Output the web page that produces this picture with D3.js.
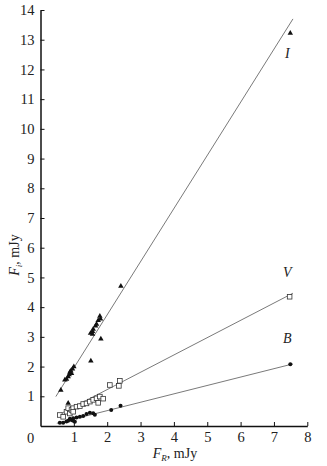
<!DOCTYPE html>
<html>
<head>
<meta charset="utf-8">
<script src="https://cdn.jsdelivr.net/npm/d3@7"></script>
<style>
  body { margin: 0; background: #fff; }
  svg text { font-family: "Liberation Serif", "DejaVu Serif", serif; fill: #222; }
</style>
</head>
<body>
<div class="chart"></div>
<script>
// photometry points, I / V / B versus F_R (mJy)
const pointsI = [
  [0.61, 1.21], [0.73, 1.55], [0.78, 1.58], [0.83, 1.66], [0.86, 1.73], [0.93, 1.77],
  [0.88, 1.81], [0.91, 1.85], [0.96, 1.92], [1.0, 2.0], [0.83, 0.77],
  [1.51, 2.19], [1.81, 2.93], [1.50, 3.12], [1.56, 3.09], [1.56, 3.18], [1.58, 3.26],
  [1.65, 3.37], [1.68, 3.43], [1.73, 3.55], [1.80, 3.60], [1.78, 3.70],
  [2.41, 4.71], [7.49, 13.22]
];
const pointsV = [
  [0.58, 0.37], [0.68, 0.31], [0.78, 0.48], [0.88, 0.42], [0.83, 0.60], [0.93, 0.54],
  [0.98, 0.60], [0.98, 0.48], [1.08, 0.65], [1.18, 0.67], [1.28, 0.74], [1.38, 0.76],
  [1.48, 0.82], [1.58, 0.88], [1.68, 0.93], [1.73, 0.78], [1.78, 0.99], [1.88, 0.92],
  [2.08, 1.38], [2.35, 1.35], [2.38, 1.52], [7.47, 4.35]
];
const pointsB = [
  [0.58, 0.11], [0.68, 0.11], [0.78, 0.15], [0.83, 0.18], [0.88, 0.24], [0.93, 0.20],
  [0.98, 0.26], [0.98, 0.18], [1.03, 0.14], [1.08, 0.29], [1.18, 0.31], [1.28, 0.34],
  [1.38, 0.40], [1.48, 0.45], [1.58, 0.43], [1.63, 0.38], [2.12, 0.54], [2.40, 0.68],
  [7.49, 2.08]
];
// fitted lines, end points
const fitI = [[0.46, 0.99], [7.57, 13.70]];
const fitV = [[0.53, 0.37], [7.57, 4.47]];
const fitB = [[0.49, 0.09], [7.57, 2.09]];

const xTicks = [1, 2, 3, 4, 5, 6, 7, 8];
const yTicks = [1, 2, 3, 4, 5, 6, 7, 8, 9, 10, 11, 12, 13, 14];

const W = 327, H = 466;
const margin = {top: 10, left: 40.5, right: 19.7, bottom: 40};

const svg = d3.select('.chart').append('svg')
  .attr('width', W).attr('height', H);

const xScale = d3.scaleLinear().domain([0, 8]).range([margin.left, W - margin.right]);
const yScale = d3.scaleLinear().domain([0, 14]).range([H - margin.bottom, margin.top]);

// axes, ticks pointing inward
const xAxis = d3.axisBottom(xScale).tickValues(xTicks).tickSizeInner(-4).tickSizeOuter(0).tickPadding(6);
const yAxis = d3.axisLeft(yScale).tickValues(yTicks).tickSizeInner(-4).tickSizeOuter(0).tickPadding(6);

const gx = svg.append('g')
  .attr('transform', `translate(0,${yScale(0)})`)
  .call(xAxis);
const gy = svg.append('g')
  .attr('transform', `translate(${xScale(0)},0)`)
  .call(yAxis);

[gx, gy].forEach(g => {
  g.select('.domain').attr('stroke', '#111').attr('stroke-width', 1.5);
  g.selectAll('.tick line').attr('stroke', '#111').attr('stroke-width', 1);
  g.selectAll('.tick text').attr('font-size', 14.5).attr('font-family', '"Liberation Serif", serif').attr('fill', '#222');
});

// lone zero at the corner
svg.append('text')
  .attr('x', xScale(0) - 10).attr('y', yScale(0) + 17)
  .attr('text-anchor', 'middle').attr('font-size', 14.5)
  .text('0');

// fit lines
const line = d3.line().x(d => xScale(d[0])).y(d => yScale(d[1]));
[fitI, fitV, fitB].forEach(f => {
  svg.append('path').attr('d', line(f))
    .attr('fill', 'none').attr('stroke', '#7a7a7a').attr('stroke-width', 1);
});

// markers
svg.selectAll('.ptI').data(pointsI).enter().append('path')
  .attr('class', 'ptI')
  .attr('d', d3.symbol().type(d3.symbolTriangle).size(13))
  .attr('transform', d => `translate(${xScale(d[0])},${yScale(d[1])})`)
  .attr('fill', '#111');

svg.selectAll('.ptV').data(pointsV).enter().append('rect')
  .attr('class', 'ptV')
  .attr('x', d => xScale(d[0]) - 2.3).attr('y', d => yScale(d[1]) - 2.3)
  .attr('width', 4.6).attr('height', 4.6)
  .attr('fill', '#fff').attr('stroke', '#333').attr('stroke-width', 0.8);

svg.selectAll('.ptB').data(pointsB).enter().append('circle')
  .attr('class', 'ptB')
  .attr('cx', d => xScale(d[0])).attr('cy', d => yScale(d[1]))
  .attr('r', 2).attr('fill', '#111');

// series labels
const seriesLabels = [['I', 7.4, 12.4], ['V', 7.4, 5.0], ['B', 7.4, 2.8]];
svg.selectAll('.slab').data(seriesLabels).enter().append('text')
  .attr('class', 'slab')
  .attr('x', d => xScale(d[1])).attr('y', d => yScale(d[2]))
  .attr('text-anchor', 'middle')
  .attr('font-size', 14).attr('font-style', 'italic')
  .text(d => d[0]);

// axis titles
const xl = svg.append('text')
  .attr('x', 175).attr('y', 458)
  .attr('text-anchor', 'middle').attr('font-size', 14);
xl.append('tspan').attr('font-style', 'italic').text('F');
xl.append('tspan').attr('font-style', 'italic').attr('font-size', 9).attr('dy', 3).text('R');
xl.append('tspan').attr('dy', -3).text(', mJy');

const yl = svg.append('text')
  .attr('transform', 'translate(19,255) rotate(-90)')
  .attr('text-anchor', 'middle').attr('font-size', 14);
yl.append('tspan').attr('font-style', 'italic').text('F');
yl.append('tspan').attr('font-style', 'italic').attr('font-size', 9).attr('dy', 3).text('i');
yl.append('tspan').attr('dy', -3).text(', mJy');
</script>
</body>
</html>
